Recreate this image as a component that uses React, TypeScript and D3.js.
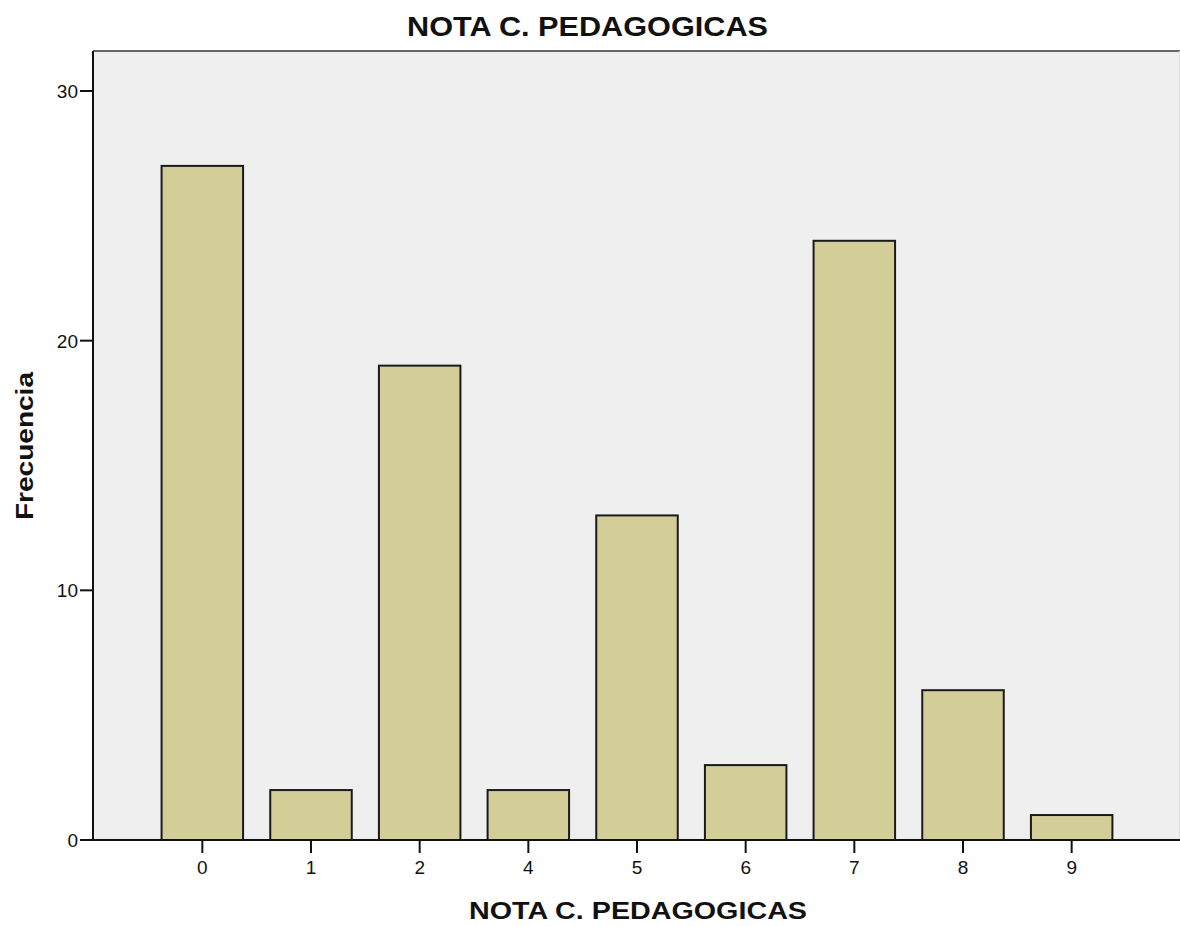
import React, { useEffect, useRef } from "react";
import * as d3 from "d3";

const categories = ["0", "1", "2", "4", "5", "6", "7", "8", "9"];
const frequencies = [27, 2, 19, 2, 13, 3, 24, 6, 1];
const yTicks = [0, 10, 20, 30];
const titleText = "NOTA C. PEDAGOGICAS";
const xLabelText = "NOTA C. PEDAGOGICAS";
const yLabelText = "Frecuencia";

export default function App() {
  const ref = useRef<SVGSVGElement | null>(null);

  useEffect(() => {
    const svg = d3.select(ref.current);
    svg.selectAll("*").remove();
    const W = 1180, H = 926;
    const left = 93, right = 1180, top = 51, bottom = 840;

    const x = d3.scaleBand<string>().domain(categories).range([148, 1126]).paddingInner(0.25).paddingOuter(0.125);
    const y = d3.scaleLinear().domain([0, 30]).range([840, 91]);

    svg.append("rect").attr("x", 0).attr("y", 0).attr("width", W).attr("height", H).attr("fill", "#fff");
    svg.append("rect").attr("x", left).attr("y", top).attr("width", right - left).attr("height", bottom - top).attr("fill", "#efefef");
    // top border
    svg.append("line").attr("x1", left).attr("x2", right).attr("y1", top).attr("y2", top).attr("stroke", "#666").attr("stroke-width", 2);
    svg.append("line").attr("x1", right - 0.5).attr("x2", right - 0.5).attr("y1", top).attr("y2", bottom).attr("stroke", "#ddd").attr("stroke-width", 1);

    // bars
    svg.selectAll("rect.bar").data(categories).enter().append("rect")
      .attr("class", "bar")
      .attr("x", (d) => x(d)!)
      .attr("y", (d, i) => y(frequencies[i]))
      .attr("width", x.bandwidth())
      .attr("height", (d, i) => y(0) - y(frequencies[i]))
      .attr("fill", "#d3ce98")
      .attr("stroke", "#1a1a1a")
      .attr("stroke-width", 2);

    // axes lines
    svg.append("line").attr("x1", left).attr("x2", left).attr("y1", top).attr("y2", bottom + 1).attr("stroke", "#111").attr("stroke-width", 2);
    svg.append("line").attr("x1", left - 1).attr("x2", right).attr("y1", bottom).attr("y2", bottom).attr("stroke", "#111").attr("stroke-width", 2);

    // y ticks
    const yg = svg.append("g");
    yTicks.forEach((t) => {
      yg.append("line").attr("x1", left - 13).attr("x2", left).attr("y1", y(t)).attr("y2", y(t)).attr("stroke", "#111").attr("stroke-width", 2);
      yg.append("text").attr("x", left - 15).attr("y", y(t) + 7).attr("text-anchor", "end")
        .attr("font-family", "Liberation Sans, Arial, sans-serif").attr("font-size", 19).attr("fill", "#111").text(String(t));
    });

    // x ticks
    const xg = svg.append("g");
    categories.forEach((c) => {
      const cx = x(c)! + x.bandwidth() / 2;
      xg.append("line").attr("x1", cx).attr("x2", cx).attr("y1", bottom).attr("y2", bottom + 13).attr("stroke", "#111").attr("stroke-width", 2);
      xg.append("text").attr("x", cx).attr("y", 874).attr("text-anchor", "middle")
        .attr("font-family", "Liberation Sans, Arial, sans-serif").attr("font-size", 19).attr("fill", "#111").text(c);
    });

    // title
    svg.append("text").attr("x", 587.5).attr("y", 36).attr("text-anchor", "middle")
      .attr("font-family", "Liberation Sans, Arial, sans-serif").attr("font-weight", "bold").attr("font-size", 27)
      .attr("textLength", 361).attr("lengthAdjust", "spacingAndGlyphs").attr("fill", "#111").text(titleText);

    // x label
    svg.append("text").attr("x", 638).attr("y", 919).attr("text-anchor", "middle")
      .attr("font-family", "Liberation Sans, Arial, sans-serif").attr("font-weight", "bold").attr("font-size", 24)
      .attr("textLength", 338).attr("lengthAdjust", "spacingAndGlyphs").attr("fill", "#111").text(xLabelText);

    // y label
    svg.append("text").attr("transform", "translate(33,446) rotate(-90)").attr("text-anchor", "middle")
      .attr("font-family", "Liberation Sans, Arial, sans-serif").attr("font-weight", "bold").attr("font-size", 24)
      .attr("textLength", 148).attr("lengthAdjust", "spacingAndGlyphs").attr("fill", "#111").text(yLabelText);
  }, []);

  return (
    <svg ref={ref} width={1180} height={926} style={{ position: "absolute", left: 0, top: 0, display: "block" }} />
  );
}
